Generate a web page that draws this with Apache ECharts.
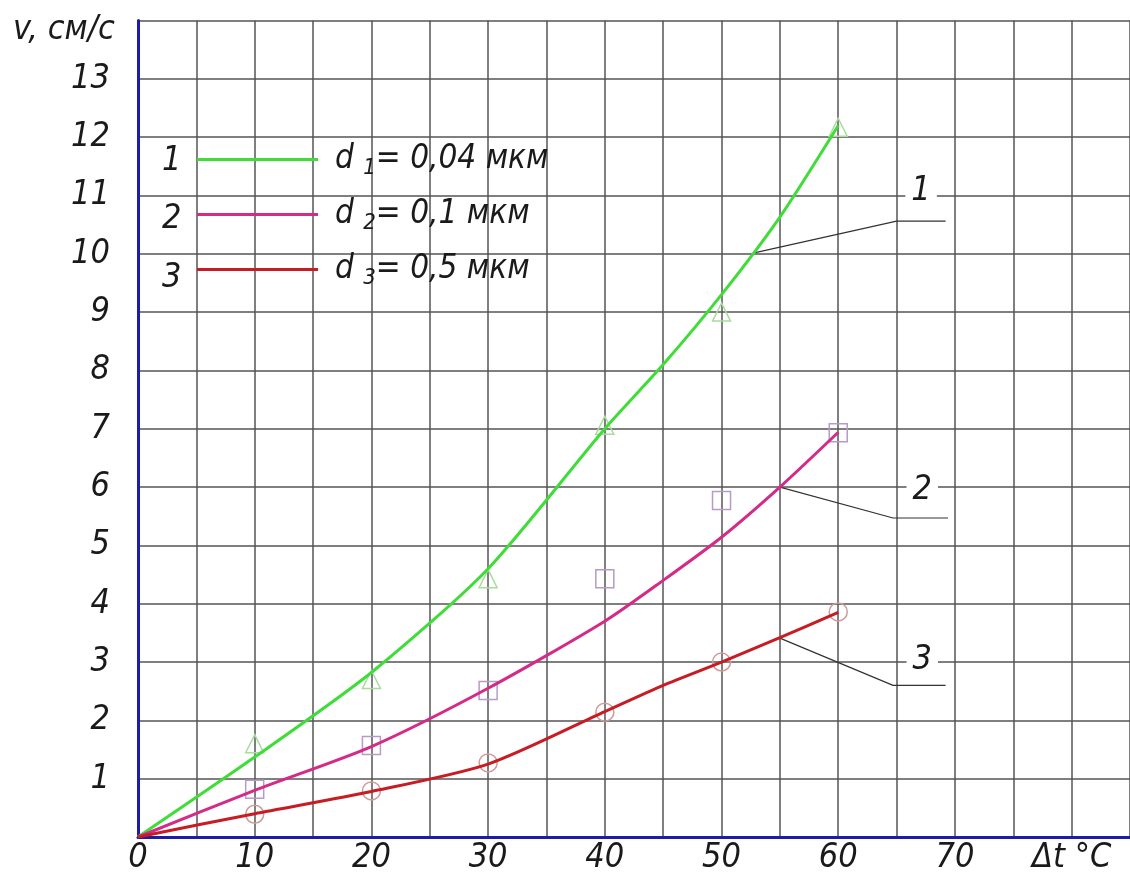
<!DOCTYPE html>
<html><head><meta charset="utf-8">
<script src="https://cdn.jsdelivr.net/npm/echarts@6/dist/echarts.min.js"></script>
<style>html,body{margin:0;padding:0;background:#fff}#c{width:1130px;height:876px}</style>
</head><body><div id="c"></div>
<script>
// Measured points (markers)
const xPoints = [10, 20, 30, 40, 50, 60];
const d1Points = [1.6, 2.7, 4.43, 7.06, 9.0, 12.17];
const d2Points = [0.82, 1.57, 2.51, 4.43, 5.77, 6.93];
const d3Points = [0.39, 0.79, 1.27, 2.14, 3.0, 3.86];
// Fitted curves
const xCurve = [0, 10, 20, 30, 40, 45, 50, 55, 60];
const d1Curve = [0, 1.37, 2.82, 4.6, 7.0, 8.1, 9.3, 10.63, 12.2];
const d2Curve = [0, 0.8, 1.55, 2.55, 3.7, 4.4, 5.14, 6.0, 6.94];
const d3Curve = [0, 0.4, 0.78, 1.25, 2.15, 2.6, 3.0, 3.42, 3.85];
// Leader lines for curve numbers
const leader1 = [[52.7, 10.01], [65.0, 10.56], [69.2, 10.56]];
const leader2 = [[55.0, 6.0], [64.7, 5.47], [69.4, 5.47]];
const leader3 = [[55.0, 3.41], [64.7, 2.6], [69.2, 2.6]];
const leaderLabels = [[67.1, 11.07, '1'], [67.2, 5.95, '2'], [67.2, 3.03, '3']];
const legendNames = ['d1= 0,04 мкм', 'd2= 0,1 мкм', 'd3= 0,5 мкм'];
const legendNums = ['1', '2', '3'];

const FONT = "'Liberation Sans Narrow', 'DejaVu Sans Condensed', 'Liberation Sans', sans-serif";
const txt = {fontFamily: FONT, fontStyle: 'italic', color: '#1a1a1a'};
const cGreen = '#3fdc3a', cMag = '#d42a88', cRed = '#c81c24';

const chart = echarts.init(document.getElementById('c'));
function curve(name, ys, color) {
  return {name, type: 'line', smooth: 0.25, symbol: 'none', z: 3,
    data: xCurve.map((x, i) => [x, ys[i]]),
    lineStyle: {color, width: 3}, itemStyle: {color}};
}
function pts(ys, symbol, color) {
  return {type: 'scatter', symbol, symbolSize: 18, z: 2,
    data: xPoints.map((x, i) => [x, ys[i]]),
    itemStyle: {color: 'transparent', borderColor: color, borderWidth: 1.5, opacity: 1}, silent: true};
}
function leader(data) {
  return {type: 'line', symbol: 'none', data, z: 2, silent: true,
    lineStyle: {color: '#333', width: 1.2}};
}
const legendRich = {
  d: {fontFamily: FONT, fontStyle: 'italic', fontSize: 33, color: '#1a1a1a', lineHeight: 40},
  s: {fontFamily: FONT, fontStyle: 'italic', fontSize: 22, color: '#1a1a1a', lineHeight: 22, verticalAlign: 'bottom'}
};
chart.setOption({
  animation: false,
  title: {text: 'v, см/с', left: 8, top: 8,
    textStyle: Object.assign({}, txt, {fontSize: 34, fontWeight: 'normal'})},
  grid: {left: 138, top: 20.5, right: 0, bottom: 39, containLabel: false},
  legend: {
    orient: 'vertical', left: 197, top: 143, padding: 0, itemGap: 18.5,
    itemWidth: 121, itemHeight: 3, icon: 'rect',
    data: legendNames.map(n => ({name: n, icon: 'rect'})),
    formatter: n => '{d|d }{s|' + n.charAt(1) + '}{d|' + n.slice(2) + '}',
    textStyle: {padding: [0, 0, 0, 12], rich: legendRich},
    selectedMode: false
  },
  graphic: legendNums.map((t, i) => ({
    type: 'text', left: 162, top: 144 + i * 58.5, z: 10,
    style: {text: t, font: 'italic 34px ' + FONT, fill: '#1a1a1a'}
  })),
  xAxis: {
    type: 'value', min: 0, max: 85, interval: 5,
    axisLine: {show: true, onZero: false, lineStyle: {color: '#1c1ca8', width: 3}},
    axisTick: {show: false},
    splitLine: {show: true, lineStyle: {color: '#555', width: 1.5}},
    axisLabel: Object.assign({}, txt, {fontSize: 34, margin: 4,
      formatter: v => (v === 80 ? 'Δt °C' : (v % 10 === 0 && v <= 70 ? String(v) : '')),
      showMaxLabel: false})
  },
  yAxis: {
    type: 'value', min: 0, max: 14, interval: 1,
    axisLine: {show: true, onZero: false, lineStyle: {color: '#1c1ca8', width: 3}},
    axisTick: {show: false},
    splitLine: {show: true, lineStyle: {color: '#555', width: 1.5}},
    axisLabel: Object.assign({}, txt, {fontSize: 34, margin: 28,
      formatter: v => (v >= 1 && v <= 13 ? String(v) : ''), showMaxLabel: false})
  },
  series: [
    curve(legendNames[0], d1Curve, cGreen),
    curve(legendNames[1], d2Curve, cMag),
    curve(legendNames[2], d3Curve, cRed),
    pts(d1Points, 'triangle', '#a8dc9c'),
    pts(d2Points, 'rect', '#b89ac8'),
    pts(d3Points, 'circle', '#d09a9a'),
    leader(leader1), leader(leader2), leader(leader3),
    {type: 'scatter', symbolSize: 0, silent: true, z: 5,
      itemStyle: {opacity: 1},
      data: leaderLabels,
      label: {show: true, position: 'inside', formatter: p => p.data[2],
        fontFamily: FONT, fontStyle: 'italic', fontSize: 34, color: '#1a1a1a',
        backgroundColor: '#fff', padding: [0, 6]}}
  ]
});
</script></body></html>
